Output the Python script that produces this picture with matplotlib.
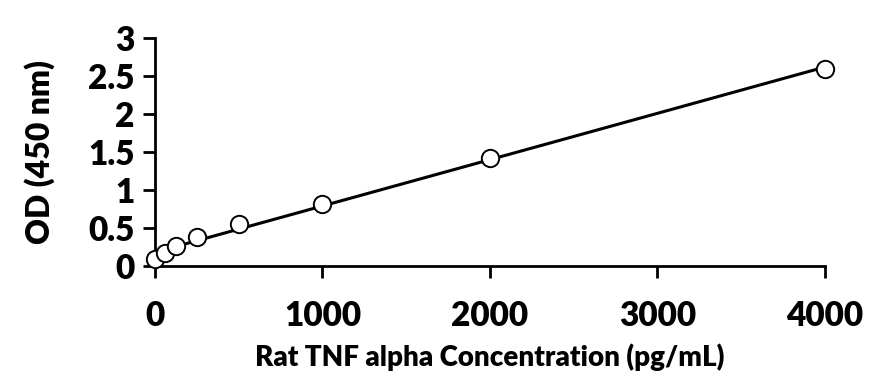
import matplotlib
matplotlib.use("Agg")
import matplotlib.pyplot as plt
import numpy as np

plt.rcParams['font.family'] = ['Lato', 'DejaVu Sans']

# standard curve data
conc = [0, 62.5, 125, 250, 500, 1000, 2000, 4000]
od = [0.09, 0.17, 0.26, 0.38, 0.55, 0.82, 1.42, 2.59]
xticks = [0, 1000, 2000, 3000, 4000]
yticks = [0, 0.5, 1, 1.5, 2, 2.5, 3]
ytick_labels = ['0', '0.5', '1', '1.5', '2', '2.5', '3']

fig = plt.figure(figsize=(8.77, 3.9), dpi=100)
ax = fig.add_axes([0.1767, 0.318, 0.764, 0.5846])

# linear trendline
slope, icpt = np.polyfit(conc, od, 1)
xl = np.array([conc[0], conc[-1]])
ax.plot(xl, slope * xl + icpt, color='black', lw=2.2, zorder=2)

ax.plot(conc, od, linestyle='none', marker='o', ms=12.5, mfc='white',
        mec='black', mew=1.4, clip_on=False, zorder=3)

ax.set_xlim(0, 4000)
ax.set_ylim(0, 3)
ax.set_xticks(xticks)
ax.set_yticks(yticks)
ax.set_yticklabels(ytick_labels)

for s in ['top', 'right']:
    ax.spines[s].set_visible(False)
for s in ['left', 'bottom']:
    ax.spines[s].set_linewidth(2)

ax.tick_params(direction='out', length=8.5, width=2, labelsize=24)
ax.tick_params(axis='x', pad=16)
ax.tick_params(axis='y', pad=6)
for lab in ax.get_xticklabels() + ax.get_yticklabels():
    lab.set_fontweight('heavy')

ax.set_xlabel('Rat TNF alpha Concentration (pg/mL)', fontsize=20, fontweight='heavy', labelpad=8)
ax.set_ylabel('OD (450 nm)', fontsize=23, fontweight='heavy', labelpad=24)

fig.savefig('out.png', dpi=100)
